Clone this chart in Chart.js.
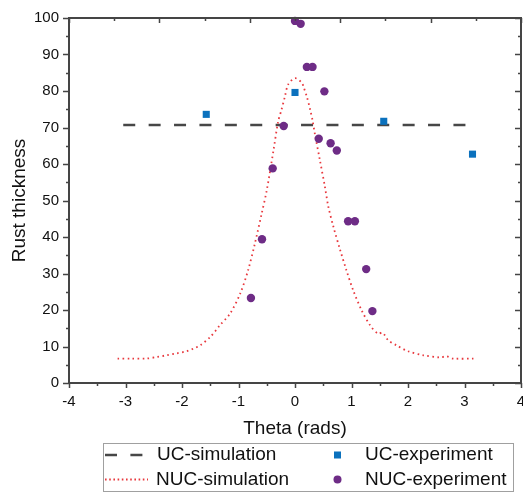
<!DOCTYPE html>
<html>
<head>
<meta charset="utf-8">
<script src="https://cdn.jsdelivr.net/npm/chart.js@4.4.1/dist/chart.umd.min.js"></script>
<style>
html,body{margin:0;padding:0;background:#fff;overflow:hidden;}
#wrap{position:relative;width:523px;height:493px;overflow:hidden;}
canvas{display:block;}
</style>
</head>
<body>
<div id="wrap"><canvas id="c" width="526" height="493"></canvas></div>
<script>
// ---- data ----
const xTicks = [-4, -3, -2, -1, 0, 1, 2, 3, 4];
const yTicks = [0, 10, 20, 30, 40, 50, 60, 70, 80, 90, 100];

const ucSimTheta = [-3.04, 3.04];
const ucSimValue = [70.7, 70.7];

const nucSimTheta = [-3.14, -2.9, -2.63, -2.45, -2.27, -2.1, -1.92, -1.8, -1.68, -1.5, -1.33, -1.15, -0.97, -0.83, -0.71, -0.59, -0.5, -0.38, -0.3, -0.24, -0.18, -0.12, 0.0, 0.12, 0.15, 0.21, 0.27, 0.31, 0.35, 0.44, 0.53, 0.59, 0.68, 0.8, 0.91, 1.03, 1.18, 1.33, 1.47, 1.55, 1.65, 1.8, 2.0, 2.27, 2.57, 2.68, 2.8, 3.16];
const nucSimValue = [6.7, 6.7, 6.7, 7.1, 7.6, 8.1, 8.7, 9.4, 10.3, 12.6, 15.8, 19.0, 24.5, 30.9, 38.2, 46.4, 52.8, 63.8, 71.5, 74.8, 78.4, 81.8, 83.5, 82.3, 81.2, 78.4, 74.8, 72.0, 68.4, 61.1, 53.7, 48.3, 42.8, 36.4, 30.9, 25.4, 19.9, 15.8, 13.5, 13.8, 11.7, 10.3, 8.7, 7.6, 7.0, 7.3, 6.7, 6.7];

const ucExpTheta = [-1.5708, 0, 1.5708, 3.1416];
const ucExpValue = [73.6, 79.6, 71.7, 62.7];

const nucExpTheta = [0, 0.1, 0.21, 0.31, 0.52, -0.2, 0.42, 0.63, 0.74, -0.395, -0.584, -0.78, 0.94, 1.06, 1.26, 1.37];
const nucExpValue = [99.2, 98.4, 86.6, 86.6, 79.9, 70.4, 66.9, 65.7, 63.7, 58.8, 39.4, 23.3, 44.3, 44.3, 31.2, 19.7];

const seriesLabels = ['UC-simulation', 'NUC-simulation', 'UC-experiment', 'NUC-experiment'];
const xTitle = 'Theta (rads)';
const yTitle = 'Rust thickness';

// ---- styles ----
const C_UCSIM = '#474747';
const C_NUCSIM = '#e8383d';
const C_UCEXP = '#0b71bd';
const C_NUCEXP = '#6e2c86';
const AXIS = '#454545';
const FONT = '"Liberation Sans", Arial, sans-serif';

function pts(xs, ys) { return xs.map((x, i) => ({x: x, y: ys[i]})); }

const framePlugin = {
  id: 'frame',
  afterDatasetsDraw(chart) {
    const {ctx, chartArea: a, scales} = chart;
    const xs = scales.x, ys = scales.y;
    ctx.save();
    ctx.strokeStyle = AXIS;
    ctx.lineWidth = 1.5;
    ctx.beginPath();
    for (let v = -4; v <= 4.001; v += 0.5) {
      const px = Math.round(xs.getPixelForValue(v)) + 0.5;
      const major = Math.abs(v - Math.round(v)) < 1e-6;
      ctx.moveTo(px, a.bottom);
      ctx.lineTo(px, a.bottom + (major ? 5 : 3));
    }
    for (let k = -5; k <= 5; k++) {
      const v = k * 0.8;
      const px = Math.round(xs.getPixelForValue(v)) + 0.5;
      const major = Math.abs(k) % 2 === 1;
      ctx.moveTo(px, a.top);
      ctx.lineTo(px, a.top + (major ? 5 : 3));
    }
    for (let v = 0; v <= 100.001; v += 5) {
      const py = Math.round(ys.getPixelForValue(v)) + 0.5;
      const major = v % 10 === 0;
      ctx.moveTo(a.left, py);
      ctx.lineTo(a.left - (major ? 6 : 3), py);
      ctx.moveTo(a.right, py);
      ctx.lineTo(a.right - (major ? 6 : 3), py);
    }
    ctx.stroke();
    ctx.lineWidth = 2;
    ctx.strokeRect(a.left, a.top, a.right - a.left, a.bottom - a.top);
    ctx.restore();
  },
  afterDraw(chart) {
    const ctx = chart.ctx;
    ctx.save();
    const bx = 103.5, by = 443.5, bw = 410, bh = 48;
    ctx.strokeStyle = '#a0a0a0';
    ctx.lineWidth = 1;
    ctx.strokeRect(bx, by, bw, bh);
    const r1 = 455, r2 = 479.5;
    ctx.strokeStyle = C_UCSIM;
    ctx.lineWidth = 2.5;
    ctx.setLineDash([12, 13.4]);
    ctx.beginPath(); ctx.moveTo(105, r1); ctx.lineTo(146, r1); ctx.stroke();
    ctx.strokeStyle = C_NUCSIM;
    ctx.lineWidth = 1.8;
    ctx.setLineDash([1.6, 2.6]);
    ctx.beginPath(); ctx.moveTo(105, r2); ctx.lineTo(148, r2); ctx.stroke();
    ctx.setLineDash([]);
    ctx.fillStyle = C_UCEXP;
    ctx.fillRect(334, r1 - 3.5, 7, 7);
    ctx.fillStyle = C_NUCEXP;
    ctx.beginPath(); ctx.arc(337.5, r2, 4, 0, Math.PI * 2); ctx.fill();
    ctx.fillStyle = '#111';
    ctx.font = '19px ' + FONT;
    ctx.textBaseline = 'middle';
    ctx.textAlign = 'left';
    ctx.fillText(seriesLabels[0], 157, r1);
    ctx.fillText(seriesLabels[1], 156, r2);
    ctx.fillText(seriesLabels[2], 365, r1);
    ctx.fillText(seriesLabels[3], 365, r2);
    ctx.restore();
  }
};

new Chart(document.getElementById('c'), {
  type: 'scatter',
  data: {
    datasets: [
      {
        label: seriesLabels[2],
        data: pts(ucExpTheta, ucExpValue),
        pointStyle: 'rect',
        pointRadius: 5,
        pointBackgroundColor: C_UCEXP,
        pointBorderWidth: 0,
        borderColor: C_UCEXP,
        showLine: false,
        clip: false,
        order: 1
      },
      {
        label: seriesLabels[3],
        data: pts(nucExpTheta, nucExpValue),
        pointStyle: 'circle',
        pointRadius: 4.2,
        pointBackgroundColor: C_NUCEXP,
        pointBorderWidth: 0,
        borderColor: C_NUCEXP,
        showLine: false,
        clip: false,
        order: 0
      },
      {
        label: seriesLabels[0],
        data: pts(ucSimTheta, ucSimValue),
        showLine: true,
        borderColor: C_UCSIM,
        borderWidth: 2.5,
        borderDash: [12, 13.4],
        pointRadius: 0,
        fill: false,
        order: 3
      },
      {
        label: seriesLabels[1],
        data: pts(nucSimTheta, nucSimValue),
        showLine: true,
        borderColor: C_NUCSIM,
        borderWidth: 1.8,
        borderDash: [1.6, 3.4],
        pointRadius: 0,
        tension: 0.3,
        fill: false,
        order: 2
      }
    ]
  },
  options: {
    responsive: false,
    animation: false,
    layout: {padding: {top: 18, right: 1.5, bottom: 53, left: 0}},
    plugins: {legend: {display: false}, tooltip: {enabled: false}},
    scales: {
      x: {
        type: 'linear',
        min: -4, max: 4,
        afterBuildTicks: (s) => { s.ticks = xTicks.map(v => ({value: v})); },
        afterFit: (s) => { s.height = 57; s.paddingLeft = 0; s.paddingRight = 0; },
        grid: {display: false, drawTicks: false},
        border: {display: false},
        ticks: {padding: 10, color: '#111', font: {size: 15, family: FONT}, maxRotation: 0,
                callback: (v) => String(v)},
        title: {display: true, text: xTitle, color: '#111', font: {size: 19, family: FONT}, padding: {top: 0, bottom: 0}}
      },
      y: {
        type: 'linear',
        min: 0, max: 100,
        afterBuildTicks: (s) => { s.ticks = yTicks.map(v => ({value: v})); },
        afterFit: (s) => { s.width = 69; s.paddingTop = 0; s.paddingBottom = 0; },
        grid: {display: false, drawTicks: false},
        border: {display: false},
        ticks: {padding: 10, color: '#111', font: {size: 15, family: FONT}, callback: (v) => String(v)},
        title: {display: true, text: yTitle, color: '#111', font: {size: 19, family: FONT}, padding: {top: 8, bottom: 0}}
      }
    }
  },
  plugins: [framePlugin]
});
</script>
</body>
</html>
